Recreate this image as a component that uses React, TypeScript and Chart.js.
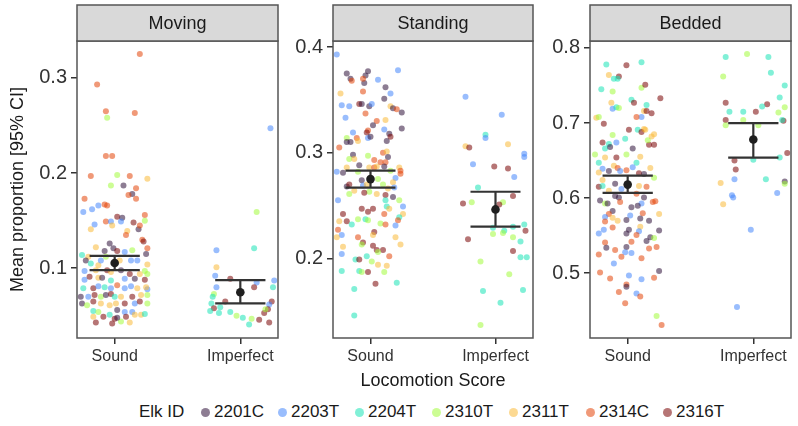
import React, { useEffect, useRef } from "react";
import { Chart, registerables } from "chart.js";

Chart.register(...registerables);

const FONT = '"Liberation Sans", Arial, Helvetica, sans-serif';

// ---------- data ----------
const PANELS = ["Moving", "Standing", "Bedded"];
const CATEGORIES = ["Sound", "Imperfect"];
const ELK_IDS = ["2201C", "2203T", "2204T", "2310T", "2311T", "2314C", "2316T"];
const ELK_COLORS = ["#30123B", "#4686FB", "#1AE4B6", "#A2FC3C", "#FABA39", "#E4460A", "#7A0403"];

// tick labels per panel
const movingTicks = [0.1, 0.2, 0.3];
const standingTicks = [0.2, 0.3, 0.4];
const beddedTicks = [0.5, 0.6, 0.7, 0.8];

// y limits per panel
const yMinValues = [0.0267, 0.1246, 0.4137];
const yMaxValues = [0.3387, 0.4057, 0.8093];

// means and 95% CI per panel: [Sound, Imperfect]
const meanValues = [[0.1055, 0.0748], [0.275, 0.2463], [0.618, 0.678]];
const ciLower = [[0.098, 0.063], [0.267, 0.23], [0.607, 0.654]];
const ciUpper = [[0.113, 0.0874], [0.283, 0.263], [0.63, 0.7]];

// observations: [jitter offset, proportion, elk index]
type Obs = [number, number, number];

const movingSound: Obs[] = [
  [0.2,0.325,5],[-0.14,0.293,5],[-0.07,0.265,5],[0.16,0.263,5],[-0.06,0.258,3],[-0.07,0.218,5],[-0.02,0.218,5],
  [-0.19,0.197,5],[0.02,0.198,3],[0.12,0.197,5],[0.26,0.194,4],[-0.03,0.187,3],[0.07,0.187,0],[0.17,0.184,5],
  [0.14,0.178,0],[0.11,0.177,5],[0.17,0.173,5],[-0.24,0.173,5],[-0.25,0.159,1],[-0.18,0.162,1],[-0.13,0.166,1],
  [-0.08,0.167,5],[-0.06,0.166,5],[0.02,0.154,6],[0.06,0.153,0],[0.24,0.156,5],[-0.16,0.146,1],[-0.07,0.149,5],
  [-0.03,0.149,1],[0.05,0.149,1],[0.15,0.148,6],[0.24,0.15,3],[-0.19,0.141,4],[-0.02,0.145,4],[0.19,0.141,0],
  [0.2,0.145,5],[0.1,0.139,4],[0.09,0.135,5],[0.22,0.13,5],[0.23,0.128,6],[-0.04,0.126,0],[-0.15,0.122,4],
  [-0.08,0.118,0],[-0.01,0.121,0],[0.02,0.118,6],[0.08,0.117,1],[0.14,0.119,3],[0.26,0.121,5],[0.25,0.115,0],
  [-0.26,0.114,2],[-0.21,0.112,4],[-0.23,0.108,0],[-0.19,0.105,2],[-0.13,0.103,4],[-0.11,0.108,1],[-0.07,0.112,3],
  [0.04,0.108,4],[0.13,0.108,1],[0.18,0.108,1],[0.26,0.104,4],[-0.24,0.097,1],[-0.15,0.098,4],[-0.06,0.098,6],
  [-0.03,0.096,4],[0.05,0.098,0],[0.12,0.094,6],[0.2,0.094,4],[0.24,0.097,3],[0.26,0.094,3],[-0.24,0.088,1],
  [-0.2,0.091,6],[-0.13,0.09,4],[-0.1,0.09,0],[-0.03,0.087,2],[0.02,0.082,5],[0.08,0.089,1],[0.16,0.089,0],
  [0.24,0.088,6],[-0.25,0.079,2],[-0.17,0.079,6],[-0.13,0.081,1],[-0.08,0.08,2],[-0.03,0.079,1],[0.08,0.079,1],
  [0.13,0.081,1],[0.18,0.079,4],[0.26,0.078,1],[0.25,0.08,4],[-0.27,0.07,0],[-0.21,0.07,1],[-0.16,0.072,6],
  [-0.11,0.07,3],[-0.07,0.072,0],[-0.03,0.073,6],[0.0,0.07,2],[0.05,0.07,4],[0.14,0.07,6],[0.21,0.072,4],
  [0.26,0.072,3],[-0.26,0.063,0],[-0.22,0.061,3],[-0.17,0.065,6],[-0.11,0.063,4],[-0.04,0.061,4],[0.01,0.063,4],
  [0.08,0.063,6],[0.16,0.063,1],[0.2,0.065,6],[0.26,0.063,3],[-0.17,0.055,2],[-0.13,0.054,3],[-0.04,0.051,2],
  [0.02,0.056,0],[0.08,0.054,1],[0.14,0.054,1],[0.21,0.051,4],[0.24,0.052,2],[-0.17,0.049,4],[-0.09,0.049,6],
  [0.0,0.047,6],[0.09,0.049,6],[0.16,0.051,4],[-0.15,0.043,6],[-0.02,0.042,6],[0.05,0.044,3],[0.12,0.043,4],
  [0.02,0.048,0],
];

const movingImperfect: Obs[] = [
  [0.24,0.247,1],[0.13,0.159,3],[-0.19,0.119,1],[0.11,0.121,2],[-0.19,0.101,4],[-0.2,0.092,1],[-0.08,0.089,6],
  [0.13,0.085,1],[0.27,0.087,1],[-0.19,0.08,1],[0.11,0.08,6],[0.26,0.08,2],[-0.21,0.073,3],[-0.22,0.07,2],
  [-0.12,0.065,6],[-0.23,0.063,2],[0.25,0.065,6],[0.23,0.062,1],[-0.21,0.058,6],[-0.16,0.059,2],[0.22,0.057,6],
  [-0.24,0.055,2],[-0.17,0.053,2],[-0.08,0.054,2],[-0.03,0.05,3],[0.02,0.048,2],[0.09,0.047,3],[0.15,0.046,6],
  [0.07,0.041,2],[0.23,0.043,6],[0.19,0.053,6],[0.2,0.057,3],
];

const standingSound: Obs[] = [
  [-0.27,0.393,1],[0.22,0.378,1],[-0.19,0.375,0],[-0.16,0.37,0],[-0.15,0.368,5],[-0.04,0.373,0],[-0.02,0.377,0],
  [-0.05,0.366,0],[-0.06,0.37,5],[0.06,0.369,1],[0.12,0.362,0],[-0.24,0.356,4],[-0.06,0.358,5],[0.16,0.356,1],
  [0.11,0.351,0],[-0.23,0.345,1],[-0.17,0.344,1],[-0.09,0.346,6],[-0.07,0.346,0],[-0.01,0.344,0],[0.01,0.346,1],
  [0.16,0.344,4],[0.18,0.342,0],[0.21,0.341,5],[0.25,0.338,0],[-0.2,0.333,1],[-0.04,0.337,5],[0.05,0.33,5],
  [0.12,0.331,4],[0.02,0.326,0],[-0.02,0.321,5],[-0.03,0.319,6],[0.11,0.322,1],[0.15,0.318,0],[0.16,0.315,6],
  [0.25,0.323,0],[-0.14,0.319,1],[-0.11,0.314,5],[-0.1,0.311,4],[-0.19,0.314,3],[-0.19,0.31,0],[-0.16,0.31,0],
  [-0.02,0.314,1],[0.0,0.315,0],[0.13,0.311,0],[-0.25,0.305,5],[-0.14,0.298,0],[-0.17,0.294,3],[-0.13,0.294,4],
  [-0.02,0.297,3],[0.03,0.293,5],[0.1,0.3,5],[0.13,0.301,4],[0.14,0.296,0],[0.08,0.291,5],[0.12,0.291,5],
  [-0.09,0.288,0],[-0.19,0.286,4],[-0.27,0.282,1],[-0.22,0.281,0],[-0.1,0.282,3],[-0.01,0.286,4],[0.03,0.286,5],
  [0.05,0.287,4],[0.11,0.287,0],[0.16,0.283,3],[0.23,0.286,4],[0.24,0.283,5],[0.24,0.28,5],[0.2,0.276,1],
  [-0.07,0.274,0],[0.06,0.275,3],[0.18,0.272,4],[-0.19,0.268,0],[-0.17,0.27,6],[-0.13,0.264,4],[-0.06,0.269,1],
  [-0.03,0.27,4],[-0.01,0.263,3],[0.05,0.261,4],[0.1,0.27,3],[0.14,0.266,4],[0.19,0.267,1],[-0.17,0.261,3],
  [-0.05,0.262,6],[0.12,0.26,6],[-0.26,0.255,1],[0.12,0.255,2],[0.18,0.258,0],[0.23,0.255,3],[0.13,0.249,2],
  [0.26,0.249,1],[-0.07,0.247,6],[-0.02,0.244,6],[0.02,0.247,6],[0.15,0.247,4],[-0.22,0.242,6],[0.11,0.242,5],
  [0.26,0.242,4],[0.23,0.239,2],[0.22,0.236,5],[-0.25,0.235,4],[-0.19,0.235,6],[-0.15,0.232,2],[-0.1,0.237,3],
  [-0.04,0.237,2],[-0.02,0.236,3],[0.08,0.233,3],[0.12,0.232,5],[0.2,0.231,1],[-0.26,0.227,5],[-0.23,0.222,1],
  [-0.27,0.22,4],[-0.1,0.22,5],[0.03,0.225,6],[0.02,0.222,4],[0.2,0.22,4],[-0.06,0.215,6],[-0.07,0.213,3],
  [0.24,0.213,4],[-0.22,0.211,4],[0.02,0.212,6],[0.05,0.208,6],[0.1,0.208,6],[0.06,0.206,3],[-0.23,0.204,1],
  [-0.03,0.202,2],[0.15,0.202,5],[-0.12,0.199,2],[-0.09,0.199,6],[0.01,0.197,3],[0.06,0.194,4],[0.13,0.193,4],
  [-0.23,0.188,2],[-0.09,0.188,2],[-0.07,0.187,3],[-0.02,0.187,6],[0.11,0.187,3],[0.21,0.177,2],[0.04,0.176,6],
  [-0.13,0.171,2],[-0.13,0.146,2],
];

const standingImperfect: Obs[] = [
  [-0.24,0.353,1],[0.05,0.336,1],[-0.08,0.317,2],[-0.08,0.314,1],[0.1,0.308,4],[-0.24,0.306,4],[-0.21,0.305,6],
  [0.23,0.299,1],[0.23,0.296,1],[-0.18,0.289,1],[-0.01,0.287,6],[0.1,0.285,6],[0.15,0.277,1],[-0.14,0.267,2],
  [0.14,0.259,6],[-0.26,0.252,6],[-0.19,0.253,3],[0.06,0.253,3],[0.03,0.251,6],[0.23,0.232,2],[-0.02,0.229,2],
  [0.07,0.226,2],[0.14,0.23,2],[-0.02,0.223,3],[0.06,0.224,3],[0.24,0.226,6],[-0.22,0.218,6],[0.14,0.22,3],
  [0.2,0.216,2],[0.14,0.207,6],[0.2,0.201,2],[0.25,0.201,2],[-0.12,0.197,3],[0.11,0.185,3],[0.22,0.17,2],
  [-0.1,0.169,2],[0.04,0.158,2],[-0.12,0.137,3],
];

const beddedSound: Obs[] = [
  [-0.17,0.778,2],[-0.01,0.777,6],[0.11,0.781,2],[-0.15,0.764,4],[-0.11,0.759,2],[-0.07,0.762,6],[-0.08,0.759,2],
  [-0.21,0.745,2],[-0.12,0.742,3],[0.11,0.747,3],[0.14,0.751,6],[0.26,0.733,6],[0.03,0.731,2],[0.05,0.727,6],
  [-0.13,0.727,4],[-0.12,0.719,1],[-0.09,0.721,2],[-0.07,0.72,3],[0.15,0.724,2],[0.13,0.716,4],[0.15,0.716,6],
  [0.19,0.713,6],[0.11,0.708,1],[0.07,0.708,5],[-0.25,0.707,4],[-0.23,0.708,3],[-0.19,0.699,6],[0.01,0.691,6],
  [0.08,0.691,2],[0.13,0.692,4],[0.11,0.688,6],[0.14,0.691,4],[0.21,0.685,4],[0.19,0.682,4],[-0.12,0.684,3],
  [-0.02,0.679,2],[-0.09,0.674,1],[-0.2,0.674,6],[-0.15,0.672,2],[-0.18,0.666,2],[-0.14,0.668,0],[0.17,0.671,6],
  [0.21,0.671,6],[0.16,0.677,3],[0.04,0.666,0],[-0.26,0.658,3],[-0.18,0.654,4],[-0.09,0.654,6],[-0.01,0.658,3],
  [0.1,0.655,4],[-0.23,0.647,2],[0.07,0.647,2],[-0.11,0.643,4],[-0.08,0.64,5],[0.04,0.641,1],[0.18,0.64,4],
  [-0.2,0.639,1],[-0.15,0.636,0],[-0.06,0.636,1],[-0.23,0.634,4],[0.09,0.633,6],[0.13,0.632,0],[-0.01,0.637,5],
  [0.21,0.627,3],[-0.2,0.624,4],[-0.1,0.619,0],[-0.23,0.615,6],[-0.2,0.616,2],[0.09,0.616,4],[0.15,0.615,5],
  [-0.15,0.61,4],[-0.05,0.612,1],[0.07,0.606,5],[-0.1,0.603,0],[-0.07,0.601,0],[0.13,0.601,0],[-0.22,0.597,0],
  [-0.18,0.593,3],[-0.16,0.593,0],[-0.06,0.595,5],[0.11,0.593,1],[0.2,0.595,5],[0.22,0.596,5],[0.03,0.588,0],
  [0.08,0.59,0],[-0.12,0.583,0],[-0.15,0.579,5],[0.02,0.577,1],[0.12,0.58,5],[0.25,0.579,4],[-0.18,0.575,1],
  [-0.12,0.574,4],[-0.01,0.571,0],[0.1,0.573,0],[0.17,0.57,0],[-0.08,0.57,4],[-0.18,0.569,5],[0.1,0.562,4],
  [0.01,0.558,0],[-0.19,0.558,1],[-0.23,0.553,1],[-0.12,0.561,5],[0.09,0.556,1],[-0.01,0.553,0],[0.07,0.551,5],
  [0.18,0.548,0],[0.21,0.547,3],[0.25,0.557,0],[-0.18,0.541,5],[0.03,0.542,5],[0.15,0.543,0],[0.17,0.533,5],
  [0.23,0.535,5],[-0.17,0.534,0],[-0.1,0.531,5],[-0.01,0.535,0],[-0.02,0.528,1],[0.03,0.527,1],[-0.23,0.525,5],
  [-0.05,0.522,5],[0.11,0.52,5],[-0.11,0.513,1],[0.25,0.503,0],[-0.22,0.501,5],[-0.14,0.493,5],[0.01,0.497,1],
  [0.11,0.492,1],[0.21,0.494,5],[-0.01,0.485,5],[-0.01,0.482,0],[-0.07,0.475,5],[0.07,0.473,1],[0.1,0.469,5],
  [-0.02,0.46,5],[0.23,0.443,3],[0.27,0.431,5],
];

const beddedImperfect: Obs[] = [
  [-0.22,0.788,2],[-0.05,0.792,3],[0.12,0.788,2],[-0.24,0.762,3],[0.14,0.767,2],[0.25,0.75,2],[-0.22,0.727,6],
  [0.11,0.725,6],[0.21,0.734,2],[-0.19,0.715,2],[-0.08,0.715,2],[0.02,0.715,6],[0.07,0.722,2],[0.2,0.714,3],
  [0.25,0.721,3],[-0.22,0.704,6],[-0.22,0.697,3],[-0.08,0.704,3],[0.04,0.697,3],[0.24,0.703,6],[0.23,0.704,2],
  [0.27,0.66,6],[-0.15,0.65,6],[0.0,0.651,2],[0.21,0.654,2],[-0.14,0.638,6],[-0.15,0.625,1],[0.1,0.625,2],
  [-0.26,0.62,4],[0.25,0.622,0],[0.25,0.619,3],[-0.17,0.604,1],[-0.16,0.601,1],[-0.24,0.592,4],[0.19,0.607,1],
  [-0.02,0.558,1],[-0.13,0.455,1],
];

const PANEL_TICKS = [movingTicks, standingTicks, beddedTicks];
const PANEL_OBS: Obs[][][] = [
  [movingSound, movingImperfect],
  [standingSound, standingImperfect],
  [beddedSound, beddedImperfect],
];

// ---------- styling ----------
const X_MIN = 0.7;
const X_MAX = 2.3;
const ERR_HALF = 0.2;
const POINT_ALPHA = 0.55;
const CANVAS_H = 372;
const PLOT_BOTTOM = 338;
const PLOT_TOP = 41;
const STRIP_TOP = 5;
const AXIS_COL = "#333333";
const BORDER_COL = "#555555";

function rgba(hex: string, a: number) {
  const n = parseInt(hex.slice(1), 16);
  return `rgba(${(n >> 16) & 255},${(n >> 8) & 255},${n & 255},${a})`;
}

const panelDecor = {
  id: "panelDecor",
  afterDatasetsDraw(chart: any, _args: any, opts: any) {
    const { ctx, chartArea: a } = chart;
    ctx.save();
    ctx.lineWidth = 1.5;
    ctx.strokeStyle = BORDER_COL;
    ctx.strokeRect(a.left, a.top, a.right - a.left, a.bottom - a.top);
    ctx.fillStyle = "#d9d9d9";
    ctx.fillRect(a.left, STRIP_TOP, a.right - a.left, a.top - STRIP_TOP);
    ctx.strokeRect(a.left, STRIP_TOP, a.right - a.left, a.top - STRIP_TOP);
    ctx.fillStyle = "#1a1a1a";
    ctx.font = `18px ${FONT}`;
    ctx.textAlign = "center";
    ctx.textBaseline = "middle";
    ctx.fillText(opts.label, (a.left + a.right) / 2, (STRIP_TOP + a.top) / 2 + 1);
    ctx.restore();
  },
};

function Panel(props: { idx: number; left: number; width: number; axisW: number; padR: number }) {
  const { idx, left, width, axisW, padR } = props;
  const ref = useRef<HTMLCanvasElement>(null);

  useEffect(() => {
    if (!ref.current) return;
    const obs = PANEL_OBS[idx];
    const pts: { x: number; y: number; e: number }[] = [];
    obs.forEach((list, c) => {
      list.forEach((o) => pts.push({ x: c + 1 + o[0], y: o[1], e: o[2] }));
    });

    const lineDs = (data: { x: number; y: number }[]) => ({
      data,
      showLine: true,
      pointRadius: 0,
      borderColor: AXIS_COL,
      borderWidth: 2.2,
      order: 2,
    });

    const errDatasets: any[] = [];
    CATEGORIES.forEach((_c, i) => {
      const cx = i + 1;
      const lo = ciLower[idx][i];
      const hi = ciUpper[idx][i];
      errDatasets.push(lineDs([{ x: cx, y: lo }, { x: cx, y: hi }]));
      errDatasets.push(lineDs([{ x: cx - ERR_HALF, y: lo }, { x: cx + ERR_HALF, y: lo }]));
      errDatasets.push(lineDs([{ x: cx - ERR_HALF, y: hi }, { x: cx + ERR_HALF, y: hi }]));
    });

    const chart = new Chart(ref.current, {
      type: "scatter",
      data: {
        datasets: [
          {
            data: pts,
            backgroundColor: pts.map((p) => rgba(ELK_COLORS[p.e], POINT_ALPHA)),
            pointRadius: 3,
            borderWidth: 0,
            order: 3,
          } as any,
          ...errDatasets,
          {
            data: meanValues[idx].map((m, i) => ({ x: i + 1, y: m })),
            backgroundColor: "#1f1f1f",
            pointRadius: 4.3,
            borderWidth: 0,
            order: 1,
          },
        ],
      },
      options: {
        responsive: false,
        animation: false,
        events: [],
        layout: { padding: { left: 0, right: padR, top: PLOT_TOP, bottom: 0 } },
        plugins: {
          legend: { display: false },
          tooltip: { enabled: false },
          panelDecor: { label: PANELS[idx] },
        } as any,
        scales: {
          x: {
            type: "linear",
            min: X_MIN,
            max: X_MAX,
            afterBuildTicks: (s: any) => {
              s.ticks = CATEGORIES.map((_c, i) => ({ value: i + 1 }));
            },
            afterFit: (s: any) => {
              s.height = CANVAS_H - PLOT_BOTTOM;
            },
            ticks: {
              callback: (_v: any, i: number) => CATEGORIES[i],
              font: { family: FONT, size: 16 },
              color: AXIS_COL,
              padding: 3,
              maxRotation: 0,
              autoSkip: false,
            },
            grid: { drawOnChartArea: false, drawTicks: true, tickLength: 6, color: AXIS_COL, lineWidth: 1.5 },
            border: { display: false },
          },
          y: {
            type: "linear",
            min: yMinValues[idx],
            max: yMaxValues[idx],
            afterBuildTicks: (s: any) => {
              s.ticks = PANEL_TICKS[idx].map((v) => ({ value: v }));
            },
            afterFit: (s: any) => {
              s.width = axisW;
            },
            ticks: {
              callback: (v: any) => Number(v).toFixed(1),
              font: { family: FONT, size: 20 },
              color: AXIS_COL,
              padding: 4,
            },
            grid: { drawOnChartArea: false, drawTicks: true, tickLength: 6, color: AXIS_COL, lineWidth: 1.5 },
            border: { display: false },
            title: {
              display: idx === 0,
              text: "Mean proportion [95% CI]",
              font: { family: FONT, size: 18 },
              color: "#1a1a1a",
              padding: { top: 7, bottom: 0 },
            },
          },
        },
      },
      plugins: [panelDecor as any],
    });
    return () => chart.destroy();
  }, [idx, axisW, padR]);

  return (
    <canvas
      ref={ref}
      width={width}
      height={CANVAS_H}
      style={{ position: "absolute", left, top: 0, width, height: CANVAS_H }}
    />
  );
}

export default function App() {
  return (
    <div
      style={{
        position: "absolute",
        left: 0,
        top: 0,
        width: 798,
        height: 426,
        background: "#ffffff",
        overflow: "hidden",
        fontFamily: FONT,
      }}
    >
      <Panel idx={0} left={0} width={285} axisW={77} padR={7} />
      <Panel idx={1} left={285} width={255} axisW={48} padR={7} />
      <Panel idx={2} left={540} width={258} axisW={50} padR={7} />
      <div
        style={{
          position: "absolute",
          left: 333,
          width: 200,
          top: 369,
          height: 22,
          lineHeight: "22px",
          textAlign: "center",
          fontSize: 18,
          color: "#1a1a1a",
          whiteSpace: "nowrap",
        }}
      >
        Locomotion Score
      </div>
      <div
        style={{
          position: "absolute",
          left: 139,
          top: 400,
          height: 24,
          display: "flex",
          alignItems: "center",
          fontSize: 17,
          color: "#1a1a1a",
          whiteSpace: "nowrap",
        }}
      >
        <span style={{ width: 62 }}>Elk ID</span>
        {ELK_IDS.map((id, i) => (
          <span key={id} style={{ display: "flex", alignItems: "center", width: 77 }}>
            <span
              style={{
                width: 9,
                height: 9,
                borderRadius: "50%",
                background: rgba(ELK_COLORS[i], POINT_ALPHA),
                marginRight: 4,
                flex: "none",
              }}
            />
            <span>{id}</span>
          </span>
        ))}
      </div>
    </div>
  );
}
